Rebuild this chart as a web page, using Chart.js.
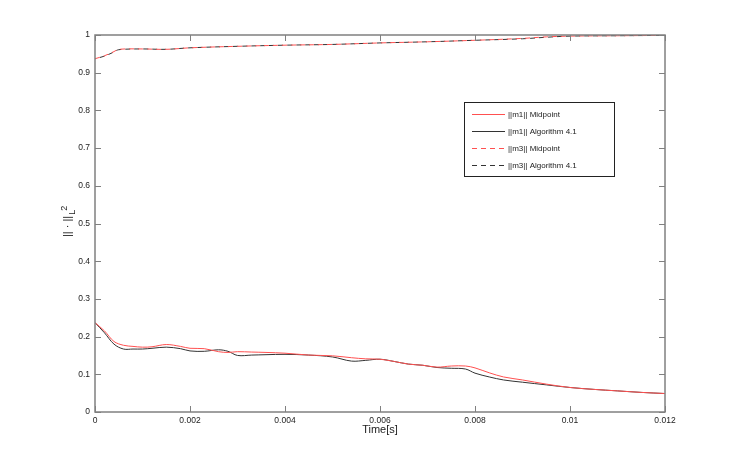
<!DOCTYPE html>
<html>
<head>
<meta charset="utf-8">
<script src="https://cdn.jsdelivr.net/npm/chart.js@4.4.1/dist/chart.umd.min.js"></script>
<style>
  html, body { margin: 0; padding: 0; background: #fff; }
  #wrap { width: 731px; height: 464px; position: relative; }
</style>
</head>
<body>
<div id="wrap"><canvas id="grafico"></canvas></div>
<script>
// tempos (s) das curvas de baixo
const tempoM1 = [0, 0.0002, 0.0004, 0.0006, 0.0008, 0.001, 0.0012, 0.0015, 0.0018, 0.002, 0.0023, 0.0026, 0.0028, 0.003, 0.0033, 0.0036, 0.004, 0.0045, 0.005, 0.0054, 0.0057, 0.006, 0.0063, 0.0066, 0.0069, 0.0072, 0.0075, 0.0078, 0.008, 0.0083, 0.0086, 0.009, 0.0095, 0.01, 0.0105, 0.011, 0.0115, 0.012];
const m1Midpoint = [0.237, 0.215, 0.187, 0.177, 0.174, 0.172, 0.173, 0.179, 0.174, 0.169, 0.168, 0.160, 0.158, 0.160, 0.159, 0.158, 0.156, 0.151, 0.149, 0.144, 0.141, 0.140, 0.134, 0.127, 0.124, 0.119, 0.122, 0.122, 0.117, 0.104, 0.093, 0.085, 0.074, 0.065, 0.060, 0.056, 0.052, 0.049];
const m1Algoritmo = [0.237, 0.210, 0.180, 0.167, 0.167, 0.167, 0.169, 0.172, 0.168, 0.162, 0.161, 0.165, 0.161, 0.150, 0.151, 0.152, 0.153, 0.151, 0.146, 0.135, 0.137, 0.140, 0.134, 0.127, 0.124, 0.118, 0.116, 0.114, 0.103, 0.093, 0.085, 0.079, 0.072, 0.065, 0.060, 0.056, 0.052, 0.049];

// tempos das curvas de cima
const tempoM3 = [0, 0.0002, 0.0004, 0.0005, 0.001, 0.0015, 0.002, 0.003, 0.004, 0.005, 0.006, 0.007, 0.008, 0.009, 0.0095, 0.01, 0.011, 0.012];
const m3Midpoint = [0.937, 0.945, 0.956, 0.962, 0.963, 0.962, 0.966, 0.970, 0.973, 0.975, 0.979, 0.982, 0.986, 0.991, 0.995, 0.997, 0.998, 0.999];
const m3Algoritmo = [0.937, 0.944, 0.955, 0.961, 0.963, 0.962, 0.966, 0.970, 0.973, 0.975, 0.979, 0.982, 0.986, 0.990, 0.994, 0.997, 0.998, 0.999];

const ticksX = [0, 0.002, 0.004, 0.006, 0.008, 0.01, 0.012];
const ticksY = [0, 0.1, 0.2, 0.3, 0.4, 0.5, 0.6, 0.7, 0.8, 0.9, 1];

const nomes = ['||m1|| Midpoint', '||m1|| Algorithm 4.1', '||m3|| Midpoint', '||m3|| Algorithm 4.1'];

const corVermelha = '#ff5050', corPreta = '#333333', corEixo = '#808080';
const fonte = 'Helvetica, "Liberation Sans", Arial, sans-serif';

const pontos = (xs, ys) => xs.map((x, i) => ({ x, y: ys[i] }));

// marcas para dentro nos quatro lados, caixa e rótulos dos eixos
const caixaPlugin = {
    id: 'caixa',
    afterDatasetsDraw(chart) {
        const { ctx, chartArea: a, scales } = chart;
        ctx.save();
        ctx.strokeStyle = corEixo;
        ctx.lineWidth = 1.5;
        ctx.strokeRect(a.left, a.top, a.right - a.left, a.bottom - a.top);
        ctx.lineWidth = 1;
        ctx.beginPath();
        ticksX.forEach(v => {
            const px = Math.round(scales.x.getPixelForValue(v)) + 0.5;
            ctx.moveTo(px, a.bottom); ctx.lineTo(px, a.bottom - 6);
            ctx.moveTo(px, a.top); ctx.lineTo(px, a.top + 6);
        });
        ticksY.forEach(v => {
            const py = Math.round(scales.y.getPixelForValue(v)) + 0.5;
            ctx.moveTo(a.left, py); ctx.lineTo(a.left + 6, py);
            ctx.moveTo(a.right, py); ctx.lineTo(a.right - 6, py);
        });
        ctx.stroke();

        // rótulo do eixo x
        ctx.fillStyle = '#222';
        ctx.font = '11px ' + fonte;
        ctx.textAlign = 'center';
        ctx.textBaseline = 'middle';
        ctx.fillText('Time[s]', (a.left + a.right) / 2, 430);

        // rótulo do eixo y: || · ||_L^2
        ctx.textAlign = 'left';
        ctx.translate(68, 237);
        ctx.rotate(-Math.PI / 2);
        ctx.fillText('|| · ||', 0, 0);
        const w = ctx.measureText('|| · ||').width;
        ctx.font = '9px ' + fonte;
        ctx.fillText('L', w + 1, 5);
        ctx.fillText('2', w + 5, -3);
        ctx.restore();
    }
};

const legendaPlugin = {
    id: 'legendaBox',
    afterDraw(chart) {
        const { ctx } = chart;
        const x = 464, y = 102, w = 150, h = 74;
        ctx.save();
        ctx.fillStyle = '#fff';
        ctx.fillRect(x, y, w, h);
        ctx.strokeStyle = '#222';
        ctx.lineWidth = 1;
        ctx.strokeRect(x + 0.5, y + 0.5, w, h);
        ctx.font = '8px ' + fonte;
        ctx.textBaseline = 'middle';
        chart.data.datasets.forEach((ds, i) => {
            const yy = y + 12.5 + i * 17;
            ctx.strokeStyle = ds.borderColor;
            ctx.setLineDash(ds.borderDash || []);
            ctx.beginPath();
            ctx.moveTo(x + 8, yy); ctx.lineTo(x + 41, yy);
            ctx.stroke();
            ctx.setLineDash([]);
            ctx.fillStyle = '#222';
            ctx.fillText(ds.label, x + 44, yy);
        });
        ctx.restore();
    }
};

new Chart('grafico', {
    type: 'line',
    data: {
        datasets: [
            { label: nomes[0], data: pontos(tempoM1, m1Midpoint), borderColor: corVermelha, borderWidth: 1, pointRadius: 0, tension: 0.35 },
            { label: nomes[1], data: pontos(tempoM1, m1Algoritmo), borderColor: corPreta, borderWidth: 1, pointRadius: 0, tension: 0.35 },
            { label: nomes[2], data: pontos(tempoM3, m3Midpoint), borderColor: corVermelha, borderDash: [5, 4], borderWidth: 1, pointRadius: 0, tension: 0.35 },
            { label: nomes[3], data: pontos(tempoM3, m3Algoritmo), borderColor: corPreta, borderDash: [5, 4], borderDashOffset: 4, borderWidth: 1, pointRadius: 0, tension: 0.35 }
        ]
    },
    options: {
        responsive: true,
        maintainAspectRatio: false,
        animation: false,
        layout: { padding: { left: 0, top: 35, right: 66, bottom: 0 } },
        plugins: {
            legend: { display: false },
            tooltip: { enabled: false }
        },
        scales: {
            x: {
                type: 'linear', min: 0, max: 0.012,
                afterBuildTicks: s => { s.ticks = ticksX.map(v => ({ value: v })); },
                afterFit: s => { s.height = 52; },
                grid: { display: false, drawTicks: false },
                border: { display: false },
                ticks: { color: '#222', font: { family: fonte, size: 8.5 }, padding: 4, maxRotation: 0, callback: v => String(v) }
            },
            y: {
                min: 0, max: 1,
                afterBuildTicks: s => { s.ticks = ticksY.map(v => ({ value: v })); },
                afterFit: s => { s.width = 95; },
                grid: { display: false, drawTicks: false },
                border: { display: false },
                ticks: { color: '#222', font: { family: fonte, size: 8.5 }, padding: 5, callback: v => String(v) }
            }
        }
    },
    plugins: [caixaPlugin, legendaPlugin]
});
</script>
</body>
</html>
